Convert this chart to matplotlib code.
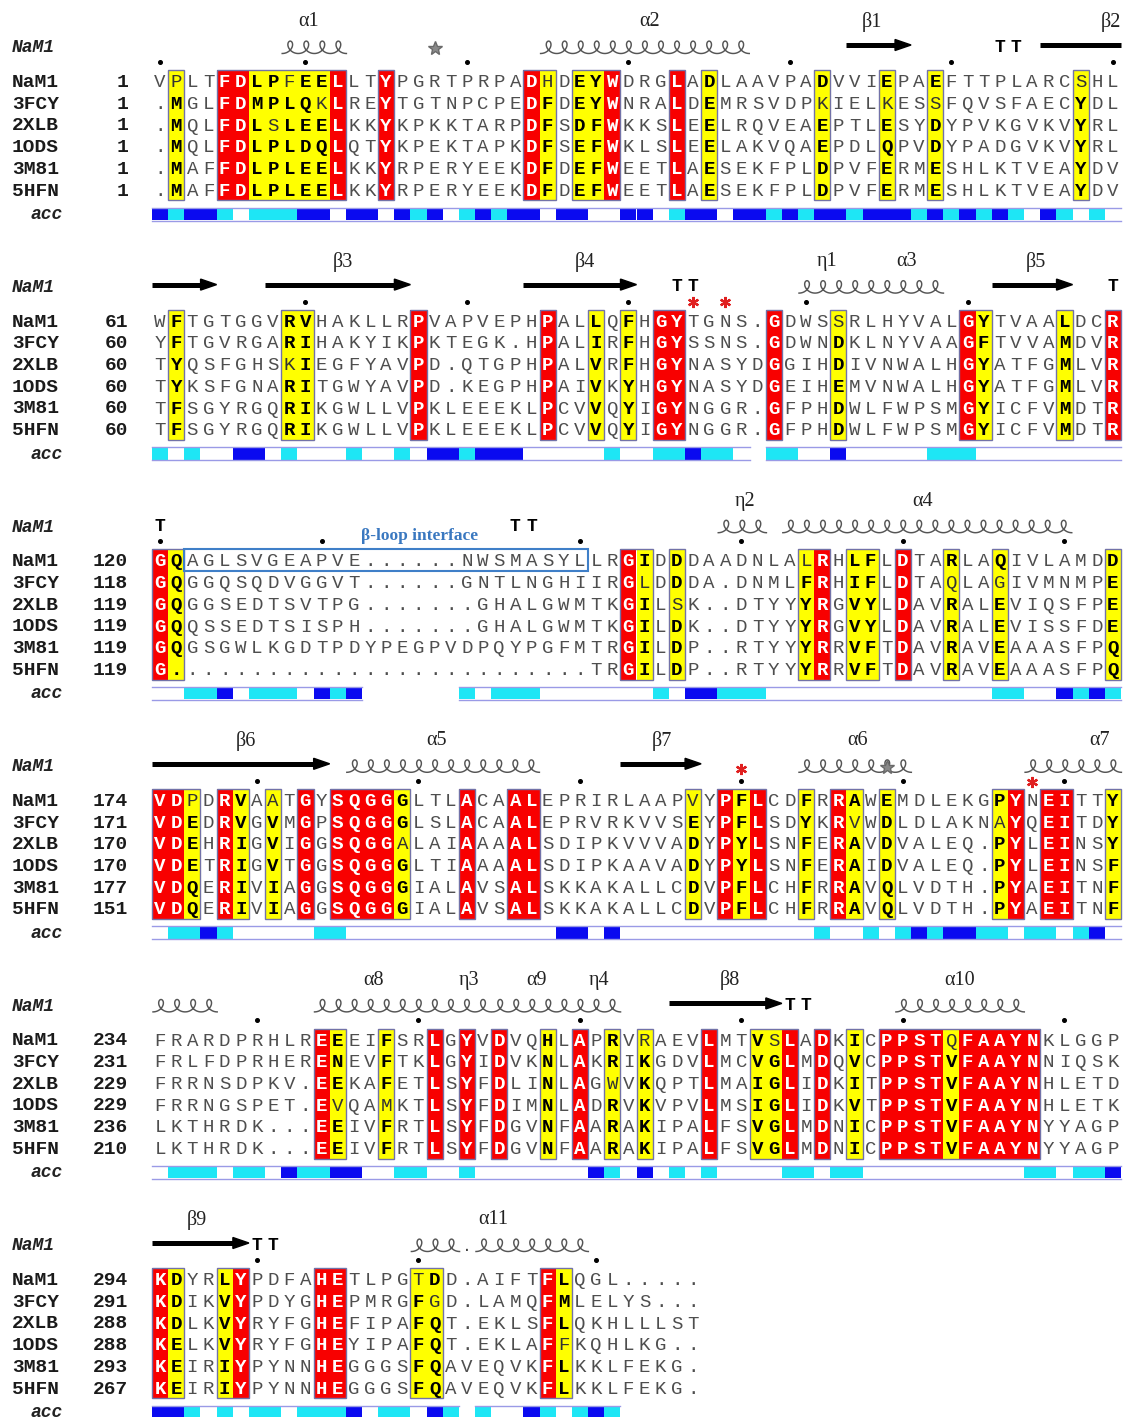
import numpy as np
import matplotlib
matplotlib.use("Agg")
import matplotlib.pyplot as plt
from matplotlib.patches import Rectangle, Polygon

# ---------------- data ----------------
names = ["NaM1", "3FCY", "2XLB", "1ODS", "3M81", "5HFN"]

starts = [
    [1, 1, 1, 1, 1, 1],
    [61, 60, 60, 60, 60, 60],
    [120, 118, 119, 119, 119, 119],
    [174, 171, 170, 170, 177, 151],
    [234, 231, 229, 229, 236, 210],
    [294, 291, 288, 288, 293, 267],
]

seqs = [
    ["VPLTFDLPFEELLTYPGRTPRPADHDEYWDRGLADLAAVPADVVIEPAEFTTPLARCSHL",
     ".MGLFDMPLQKLREYTGTNPCPEDFDEYWNRALDEMRSVDPKIELKESSFQVSFAECYDL",
     ".MQLFDLSLEELKKYKPKKTARPDFSDFWKKSLEELRQVEAEPTLESYDYPVKGVKVYRL",
     ".MQLFDLPLDQLQTYKPEKTAPKDFSEFWKLSLEELAKVQAEPDLQPVDYPADGVKVYRL",
     ".MAFFDLPLEELKKYRPERYEEKDFDEFWEETLAESEKFPLDPVFERMESHLKTVEAYDV",
     ".MAFFDLPLEELKKYRPERYEEKDFDEFWEETLAESEKFPLDPVFERMESHLKTVEAYDV"],
    ["WFTGTGGVRVHAKLLRPVAPVEPHPALLQFHGYTGNS.GDWSSRLHYVALGYTVAALDCR",
     "YFTGVRGARIHAKYIKPKTEGK.HPALIRFHGYSSNS.GDWNDKLNYVAAGFTVVAMDVR",
     "TYQSFGHSKIEGFYAVPD.QTGPHPALVRFHGYNASYDGGIHDIVNWALHGYATFGMLVR",
     "TYKSFGNARITGWYAVPD.KEGPHPAIVKYHGYNASYDGEIHEMVNWALHGYATFGMLVR",
     "TFSGYRGQRIKGWLLVPKLEEEKLPCVVQYIGYNGGR.GFPHDWLFWPSMGYICFVMDTR",
     "TFSGYRGQRIKGWLLVPKLEEEKLPCVVQYIGYNGGR.GFPHDWLFWPSMGYICFVMDTR"],
    ["GQAGLSVGEAPVE......NWSMASYLLRGIDDDAADNLALRHLFLDTARLAQIVLAMDD",
     "GQGGQSQDVGGVT......GNTLNGHIIRGLDDDA.DNMLFRHIFLDTAQLAGIVMNMPE",
     "GQGGSEDTSVTPG.......GHALGWMTKGILSK..DTYYYRGVYLDAVRALEVIQSFPE",
     "GQQSSEDTSISPH.......GHALGWMTKGILDK..DTYYYRGVYLDAVRALEVISSFDE",
     "GQGSGWLKGDTPDYPEGPVDPQYPGFMTRGILDP..RTYYYRRVFTDAVRAVEAAASFPQ",
     "G..........................TRGILDP..RTYYYRRVFTDAVRAVEAAASFPQ"],
    ["VDPDRVAATGYSQGGGLTLACAALEPRIRLAAPVYPFLCDFRRAWEMDLEKGPYNEITTY",
     "VDEDRVGVMGPSQGGGLSLACAALEPRVRKVVSEYPFLSDYKRVWDLDLAKNAYQEITDY",
     "VDEHRIGVIGGSQGGALAIAAAALSDIPKVVVADYPYLSNFERAVDVALEQ.PYLEINSY",
     "VDETRIGVTGGSQGGGLTIAAAALSDIPKAAVADYPYLSNFERAIDVALEQ.PYLEINSF",
     "VDQERIVIAGGSQGGGIALAVSALSKKAKALLCDVPFLCHFRRAVQLVDTH.PYAEITNF",
     "VDQERIVIAGGSQGGGIALAVSALSKKAKALLCDVPFLCHFRRAVQLVDTH.PYAEITNF"],
    ["FRARDPRHLREEEIFSRLGYVDVQHLAPRVRAEVLMTVSLADKICPPSTQFAAYNKLGGP",
     "FRLFDPRHERENEVFTKLGYIDVKNLAKRIKGDVLMCVGLMDQVCPPSTVFAAYNNIQSK",
     "FRRNSDPKV.EEKAFETLSYFDLINLAGWVKQPTLMAIGLIDKITPPSTVFAAYNHLETD",
     "FRRNGSPET.EVQAMKTLSYFDIMNLADRVKVPVLMSIGLIDKVTPPSTVFAAYNHLETK",
     "LKTHRDK...EEIVFRTLSYFDGVNFAARAKIPALFSVGLMDNICPPSTVFAAYNYYAGP",
     "LKTHRDK...EEIVFRTLSYFDGVNFAARAKIPALFSVGLMDNICPPSTVFAAYNYYAGP"],
    ["KDYRLYPDFAHETLPGTDD.AIFTFLQGL.....",
     "KDIKVYPDYGHEPMRGFGD.LAMQFMLELYS...",
     "KDLKVYRYFGHEFIPAFQT.EKLSFLQKHLLLST",
     "KELKVYRYFGHEYIPAFQT.EKLAFFKQHLKG..",
     "KEIRIYPYNNHEGGGSFQAVEQVKFLKKLFEKG.",
     "KEIRIYPYNNHEGGGSFQAVEQVKFLKKLFEKG."],
]

# strictly conserved (red) and similar (yellow) columns, 1-based per block
red_cols = [
    [5, 6, 12, 15, 24, 29, 33],
    [17, 25, 32, 33, 39, 51, 60],
    [1, 30, 42, 47],
    [1, 2, 5, 10, 12, 13, 14, 15, 20, 23, 24, 36, 38, 43, 54, 56, 57],
    [11, 18, 20, 22, 27, 35, 40, 42, 46, 47, 48, 49, 51, 52, 53, 54, 55],
    [1, 6, 11, 12, 25],
]
yellow_cols = [
    [2, 7, 8, 9, 10, 11, 25, 27, 28, 35, 42, 46, 49, 58],
    [2, 9, 10, 28, 30, 43, 52, 57],
    [2, 31, 33, 41, 44, 45, 50, 53, 60],
    [3, 6, 8, 16, 34, 37, 41, 44, 46, 53, 60],
    [12, 15, 25, 29, 31, 38, 39, 44, 50],
    [2, 5, 17, 18, 26],
]
# residues in yellow columns printed in plain weight (row, col)
thin = [
    [(0, 2), (0, 9), (1, 11), (2, 8), (0, 25), (1, 42), (1, 46), (1, 49), (0, 58)],
    [(2, 9), (0, 43)],
    [(1, 31), (2, 33), (0, 41), (1, 50), (1, 53)],
    [(0, 3), (0, 8), (2, 16), (0, 34), (1, 44), (1, 53)],
    [(3, 12), (3, 15), (2, 29), (0, 31), (0, 39), (0, 50)],
    [(0, 17), (1, 18), (3, 26)],
]

# accessibility: 2 = accessible, 1 = intermediate, 0 = buried, - = gap
acc = [
    "21221011122022021201212202" "2002201220221212212221212121021010",
    "1010022010" "0010010221" "2220000010" "0112110-11" "0020000011" "1000000000",
    "0011201110" "212------1" "0111000000" "0102211100" "0000000000" "0011002121",
    "0112100000" "1100000000" "0000022020" "0000000000" "0100101212" "2110110120",
    "0111011021" "1220011001" "0000000210" "2010100001" "1011000000" "0000110112",
    "2210101101" "112011021-" "100210121" "-----",
]

# secondary structure of NaM1 (kind, first col, last col)
ss = [
    [("helix", 9, 12), ("helix", 25, 37), ("arrow", 44, 47), ("turn", 53, 54), ("strand", 56, 60)],
    [("arrow", 1, 4), ("arrow", 8, 16), ("arrow", 24, 30), ("turn", 33, 34), ("helix", 41, 49),
     ("arrow", 53, 57), ("turn", 60, 60)],
    [("turn", 1, 1), ("turn", 23, 24), ("helix", 36, 38), ("helix", 40, 57)],
    [("arrow", 1, 11), ("helix", 13, 24), ("arrow", 30, 34), ("helix", 41, 47), ("helix", 55, 60)],
    [("helix", 1, 4), ("helix", 11, 21), ("helix", 22, 29), ("arrow", 33, 39), ("turn", 40, 41),
     ("helix", 47, 54)],
    [("arrow", 1, 6), ("turn", 7, 8), ("helix", 17, 19), ("helix", 21, 27)],
]
ss_labels = [
    [("α1", 10.2), ("α2", 31.3), ("β1", 45.1), ("β2", 59.9)],
    [("β3", 12.3), ("β4", 27.3), ("η1", 42.3), ("α3", 47.2), ("β5", 55.2)],
    [("η2", 37.2), ("α4", 48.2)],
    [("β6", 6.3), ("α5", 18.1), ("β7", 32.1), ("α6", 44.2), ("α7", 59.2)],
    [("α8", 14.2), ("η3", 20.1), ("α9", 24.3), ("η4", 28.2), ("β8", 36.3), ("α10", 50.5)],
    [("β9", 3.3), ("α11", 21.6)],
]
grey_stars = [(0, 18), (3, 46)]
red_stars = [(1, 34, 62), (1, 36, 62), (3, 37, 50), (3, 55, 63)]
helix_gap_dots = [(5, 20)]

# ---------------- layout ----------------
X0 = 152.0
CW = 16.15
RH = 21.7
BLOCK_H = 239.6
ROW0 = 81.0

RED = "#f80000"
YEL = "#ffff00"
FRAME = "#7272a8"
PLAIN = "#4e4e4e"
MONO = ["Liberation Mono", "DejaVu Sans Mono"]
SERIF = ["Liberation Serif", "DejaVu Serif"]


def xl(c):
    return X0 + (c - 1) * CW


def xc(c):
    return X0 + (c - 0.5) * CW


def runs(cols):
    out = []
    for c in sorted(cols):
        if out and c == out[-1][1] + 1:
            out[-1][1] = c
        else:
            out.append([c, c])
    return out


fig = plt.figure(figsize=(11.26, 14.17), dpi=100)
ax = fig.add_axes([0, 0, 1, 1])
ax.set_xlim(0, 1126)
ax.set_ylim(1417, 0)
ax.axis("off")

for b in range(len(seqs)):
    off = b * BLOCK_H
    top = off + ROW0 - RH / 2
    height = RH * len(names)

    # column shading and frames
    for c in red_cols[b]:
        ax.add_patch(Rectangle((xl(c), top), CW, height, facecolor=RED, edgecolor="none"))
    for c in yellow_cols[b]:
        ax.add_patch(Rectangle((xl(c), top), CW, height, facecolor=YEL, edgecolor="none"))
    for s, e in runs(red_cols[b] + yellow_cols[b]):
        ax.add_patch(Rectangle((xl(s), top), (e - s + 1) * CW, height, fill=False,
                               edgecolor=FRAME, lw=1.0))

    # header row
    ax.text(12, off + 48, "NaM1", family=MONO, fontsize=13, fontweight="bold",
            fontstyle="italic", va="center", ha="left", color="#222222")
    for lab, c in ss_labels[b]:
        ax.text(xc(c), off + 22, lab, family=SERIF, fontsize=14.5, ha="center", va="center",
                color="#222222")
    for kind, s, e in ss[b]:
        if kind == "helix":
            n = e - s + 1
            t = np.linspace(0, 2 * np.pi * n, 80 * n)
            hx = xl(s) + 1 + (CW - 0.1) * t / (2 * np.pi) + 0.36 * CW * np.sin(t)
            hy = off + 53.5 - 6.2 * (1 - np.cos(t))
            ax.plot(hx, hy, color="#555555", lw=1.05)
        elif kind in ("arrow", "strand"):
            x1 = xl(s)
            x2 = xl(e + 1)
            y = off + 45
            if kind == "arrow":
                ax.plot([x1, x2 - 12], [y, y], color="black", lw=3.6, solid_capstyle="butt")
                ax.add_patch(Polygon([(x2 - 16, y - 5.5), (x2, y), (x2 - 16, y + 5.5)],
                                     closed=True, facecolor="black", edgecolor="black"))
            else:
                ax.plot([x1, x2], [y, y], color="black", lw=3.6, solid_capstyle="butt")
        elif kind == "turn":
            for c in range(s, e + 1):
                ax.text(xc(c), off + 47, "T", family=MONO, fontsize=13, fontweight="bold",
                        ha="center", va="center", color="black")
    for bb, c in helix_gap_dots:
        if bb == b:
            ax.text(xc(c), off + 53, ".", family=MONO, fontsize=12, ha="center",
                    va="baseline", color="#444444")

    # dots every ten residues of NaM1
    num = starts[b][0]
    for c, ch in enumerate(seqs[b][0], start=1):
        if ch != ".":
            if num % 10 == 0 or num == 1:
                ax.plot(xc(c), off + 62, "o", color="black", ms=2.6)
            num += 1

    # sequence rows
    thin_set = set(thin[b])
    for r, name in enumerate(names):
        y = off + ROW0 + r * RH
        ax.text(12, y + 6, name, family=MONO, fontsize=14, fontweight="bold",
                ha="left", va="baseline", color="#1a1a1a")
        ax.text(128, y + 6, str(starts[b][r]), family=MONO, fontsize=14, fontweight="bold",
                ha="right", va="baseline", color="#1a1a1a")
        for c, ch in enumerate(seqs[b][r], start=1):
            if c in red_cols[b]:
                color, weight = "white", "bold"
            elif c in yellow_cols[b] and (r, c) not in thin_set:
                color, weight = "black", "bold"
            elif c in yellow_cols[b]:
                color, weight = "#333333", "normal"
            else:
                color, weight = PLAIN, "normal"
            ax.text(xc(c), y + 6.2, ch, family=MONO, fontsize=13.8, fontweight=weight,
                    ha="center", va="baseline", color=color)

    # beta-loop interface box
    if b == 2:
        ax.add_patch(Rectangle((xl(3), top), 25 * CW, RH, fill=False,
                               edgecolor="#3f7fc8", lw=1.5))
        ax.text(420, off + 57, "β-loop interface", family=SERIF, fontsize=12.5,
                fontweight="bold", color="#3a78c0", ha="center", va="center")

    # stars
    for bb, c in grey_stars:
        if bb == b:
            ax.plot(xc(c), off + 48, marker="*", color="#8a8a8a", ms=10, mec="#6a6a6a")
    for bb, c, yy in red_stars:
        if bb == b:
            ax.plot(xc(c), off + yy, marker=(6, 2, 0), color="#e02020", ms=8, mew=1.6)

    # accessibility bar
    ay = off + 214
    ax.text(63, ay + 5, "acc", family=MONO, fontsize=13, fontweight="bold",
            fontstyle="italic", ha="right", va="baseline", color="#222222")
    vals = acc[b]
    for c, v in enumerate(vals, start=1):
        if v == "2":
            ax.add_patch(Rectangle((xl(c), ay - 6), CW, 12, facecolor="#0a0af0", edgecolor="none"))
        elif v == "1":
            ax.add_patch(Rectangle((xl(c), ay - 6), CW, 12, facecolor="#1ee6f5", edgecolor="none"))
    present = [c for c, v in enumerate(vals, start=1) if v != "-"]
    for s, e in runs(present):
        for yy in (ay - 6.5, ay + 6.5):
            ax.plot([xl(s), xl(e + 1)], [yy, yy], color="#9a9ae6", lw=1.0)

fig.savefig("out.png", dpi=100)
